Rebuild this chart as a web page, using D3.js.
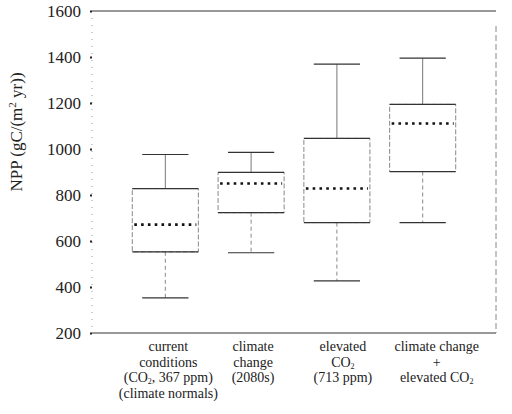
<!DOCTYPE html>
<html>
<head>
<meta charset="utf-8">
<script src="https://cdn.jsdelivr.net/npm/d3@7"></script>
<style>
  body { margin: 0; background: #fff; }
  text { font-family: "Liberation Serif", "DejaVu Serif", serif; fill: #222; }
</style>
</head>
<body>
<div id="chart"></div>
<script>
// scenarios
const cats = ["current", "climate", "co2", "both"];
const whiskerLow = [353, 549, 427, 680];
const q1 = [553, 723, 680, 902];
const median = [671, 850, 828, 1111];
const q3 = [828, 898, 1046, 1194];
const whiskerHigh = [976, 985, 1369, 1395];
const yTicks = [200, 400, 600, 800, 1000, 1200, 1400, 1600];

// label lines, [text, subscript, rest]
const catLabels = [
  [["current"], ["conditions"], ["(CO", "2", ", 367 ppm)"], ["(climate normals)"]],
  [["climate"], ["change"], ["(2080s)"]],
  [["elevated"], ["CO", "2", ""], ["(713 ppm)"]],
  [["climate change"], ["+"], ["elevated CO", "2", ""]]
];

const W = 512, H = 414;
const frame = { left: 92, right: 496, top: 11, bottom: 333 };

const svg = d3.select("#chart").append("svg")
  .attr("width", W)
  .attr("height", H);

const y = d3.scaleLinear()
  .domain([200, 1600])
  .range([frame.bottom, frame.top]);

const x = d3.scaleBand()
  .domain(cats)
  .range([122, 466])
  .paddingInner(0.23)
  .paddingOuter(0.12);

//frame
svg.append("line")
  .attr("x1", frame.left).attr("x2", frame.right)
  .attr("y1", frame.top).attr("y2", frame.top)
  .style("stroke", "#333").style("stroke-width", 1);
svg.append("line")
  .attr("x1", frame.left).attr("x2", frame.right)
  .attr("y1", frame.bottom).attr("y2", frame.bottom)
  .style("stroke", "#333").style("stroke-width", 1);
svg.append("line")
  .attr("x1", frame.left).attr("x2", frame.left)
  .attr("y1", frame.top).attr("y2", frame.bottom)
  .style("stroke", "#999").style("stroke-width", 1)
  .style("stroke-dasharray", "1,6");
svg.append("line")
  .attr("x1", frame.right).attr("x2", frame.right)
  .attr("y1", frame.top + 15).attr("y2", frame.bottom)
  .style("stroke", "#888").style("stroke-width", 1)
  .style("stroke-dasharray", "6,3");

//y axis
const yAxis = svg.append("g")
  .attr("transform", `translate(${frame.left}, 0)`)
  .call(d3.axisLeft(y).tickValues(yTicks).tickFormat(d3.format("d")).tickSize(2).tickPadding(9));
yAxis.attr("font-family", null).attr("font-size", null);
yAxis.select(".domain").remove();
yAxis.selectAll(".tick line").style("stroke", "#222").style("stroke-width", 2);
yAxis.selectAll(".tick text")
  .style("font-family", "'Liberation Serif', serif")
  .style("font-size", "17px")
  .style("fill", "#222");

// y title
const yTitle = svg.append("text")
  .attr("transform", "translate(22, 132) rotate(-90)")
  .attr("text-anchor", "middle")
  .style("font-size", "17px");
yTitle.append("tspan").text("NPP (gC/(m");
yTitle.append("tspan").text("2").attr("dy", -6).style("font-size", "11px");
yTitle.append("tspan").text(" yr))").attr("dy", 6);

//boxes
const g = svg.selectAll(".box")
  .data(cats)
  .enter()
  .append("g")
    .attr("class", "box");

const cx = d => x(d) + x.bandwidth() / 2;
const capW = x.bandwidth() * 0.7;

// upper whisker
g.append("line")
  .attr("x1", cx).attr("x2", cx)
  .attr("y1", (d, i) => y(whiskerHigh[i]))
  .attr("y2", (d, i) => y(q3[i]))
  .style("stroke", "#777").style("stroke-width", 1);
// lower whisker
g.append("line")
  .attr("x1", cx).attr("x2", cx)
  .attr("y1", (d, i) => y(q1[i]))
  .attr("y2", (d, i) => y(whiskerLow[i]))
  .style("stroke", "#888").style("stroke-width", 1)
  .style("stroke-dasharray", "4,3");
// caps
g.append("line")
  .attr("x1", d => cx(d) - capW / 2).attr("x2", d => cx(d) + capW / 2)
  .attr("y1", (d, i) => y(whiskerHigh[i]))
  .attr("y2", (d, i) => y(whiskerHigh[i]))
  .style("stroke", "#333").style("stroke-width", 1.2);
g.append("line")
  .attr("x1", d => cx(d) - capW / 2).attr("x2", d => cx(d) + capW / 2)
  .attr("y1", (d, i) => y(whiskerLow[i]))
  .attr("y2", (d, i) => y(whiskerLow[i]))
  .style("stroke", "#333").style("stroke-width", 1.2);

// box sides
g.append("rect")
  .attr("x", d => x(d))
  .attr("y", (d, i) => y(q3[i]))
  .attr("width", x.bandwidth())
  .attr("height", (d, i) => y(q1[i]) - y(q3[i]))
  .style("fill", "none")
  .style("stroke", "#888").style("stroke-width", 1)
  .style("stroke-dasharray", "5,2");
// box top and bottom
g.append("line")
  .attr("x1", d => x(d)).attr("x2", d => x(d) + x.bandwidth())
  .attr("y1", (d, i) => y(q3[i])).attr("y2", (d, i) => y(q3[i]))
  .style("stroke", "#333").style("stroke-width", 1.2);
g.append("line")
  .attr("x1", d => x(d)).attr("x2", d => x(d) + x.bandwidth())
  .attr("y1", (d, i) => y(q1[i])).attr("y2", (d, i) => y(q1[i]))
  .style("stroke", "#333").style("stroke-width", 1.2);
// median dots
g.append("line")
  .attr("x1", d => x(d) + 2).attr("x2", d => x(d) + x.bandwidth() - 2)
  .attr("y1", (d, i) => y(median[i])).attr("y2", (d, i) => y(median[i]))
  .style("stroke", "#111").style("stroke-width", 2.6)
  .style("stroke-dasharray", "2.6,4.2");

// category labels
const labelShift = [3, 2, 6, 14];
cats.forEach((c, i) => {
  catLabels[i].forEach((line, j) => {
    const t = svg.append("text")
      .attr("x", cx(c) + labelShift[i])
      .attr("y", 351 + j * 15.5)
      .attr("text-anchor", "middle")
      .style("font-size", "14px");
    t.append("tspan").text(line[0]);
    if (line.length > 1) {
      t.append("tspan").text(line[1])
        .attr("dy", 2)
        .style("font-size", "8px");
      t.append("tspan").text(line[2]).attr("dy", -2);
    }
  });
});
</script>
</body>
</html>
